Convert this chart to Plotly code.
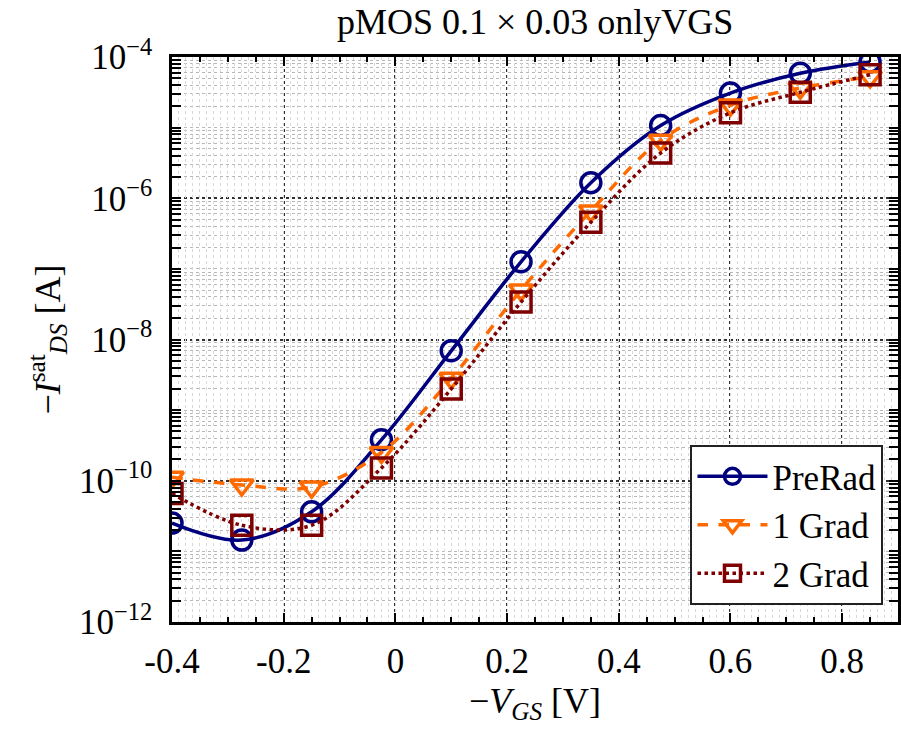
import plotly.graph_objects as go

vgs = [-0.4, -0.275, -0.15, -0.025, 0.1, 0.225, 0.35, 0.475, 0.6, 0.725, 0.85]
log_prerad = [-10.60, -10.84, -10.44, -9.42, -8.16, -6.90, -5.78, -4.97, -4.51, -4.23, -4.07]
log_1grad = [-9.95, -10.06, -10.09, -9.60, -8.55, -7.30, -6.18, -5.18, -4.68, -4.44, -4.28]
log_2grad = [-10.18, -10.63, -10.63, -9.82, -8.70, -7.47, -6.34, -5.36, -4.79, -4.50, -4.25]

series_names = ["PreRad", "1 Grad", "2 Grad"]
ytick_vals = [1e-12, 1e-10, 1e-8, 1e-6, 1e-4]
ytick_text = ["10<sup>\u221212</sup>", "10<sup>\u221210</sup>", "10<sup>\u22128</sup>",
              "10<sup>\u22126</sup>", "10<sup>\u22124</sup>"]
xtick_vals = [-0.4, -0.2, 0, 0.2, 0.4, 0.6, 0.8]
xtick_text = ["-0.4", "-0.2", "0", "0.2", "0.4", "0.6", "0.8"]

FONT = "Liberation Serif"
styles = [
    dict(color="#00007f", dash="solid", symbol="circle-open"),
    dict(color="#ff6a00", dash="dash", symbol="triangle-down-open"),
    dict(color="#7f0000", dash="dot", symbol="square-open"),
]

fig = go.Figure()
for name, logs, st in zip(series_names, [log_prerad, log_1grad, log_2grad], styles):
    fig.add_trace(go.Scatter(
        x=vgs, y=[10 ** v for v in logs], name=name, mode="lines+markers",
        line=dict(color=st["color"], width=3.5, dash=st["dash"], shape="spline", smoothing=1.0),
        marker=dict(symbol=st["symbol"], size=20, color=st["color"],
                    line=dict(width=3.5, color=st["color"])),
    ))

# dense light vertical grid via overlay axis
fig.add_trace(go.Scatter(x=[-0.4, 0.9], y=[1e-12, 1e-12], xaxis="x2", mode="none",
                         showlegend=False, hoverinfo="skip"))

f = lambda s: dict(family=FONT, size=s, color="black")

fig.update_layout(
    width=901, height=729,
    margin=dict(l=172, r=3, t=57, b=107),
    paper_bgcolor="white", plot_bgcolor="white",
    font=f(35),
    title=dict(text="pMOS 0.1 \u00d7 0.03 onlyVGS", x=0.594, xanchor="center", y=0.97,
               yanchor="middle", font=f(36)),
    xaxis=dict(
        range=[-0.4, 0.9], tickvals=xtick_vals, ticktext=xtick_text, automargin=False,
        showline=True, linecolor="black", linewidth=2.5, mirror="allticks",
        ticks="inside", ticklen=9, tickwidth=2, tickcolor="black",
        showgrid=True, gridcolor="#303030", griddash="dot", gridwidth=1.5,
        minor=dict(dtick=0.05, tick0=0, ticks="inside", ticklen=5, tickwidth=1.5,
                   tickcolor="black", showgrid=True, gridcolor="#b0b0b0",
                   griddash="dot", gridwidth=1),
        zeroline=False, ticklabelstandoff=6,
        title=dict(text="\u2212<i>V</i><sub><i>GS</i></sub> [V]", standoff=6, font=f(36)),
        tickfont=f(35),
    ),
    xaxis2=dict(
        overlaying="x", range=[-0.4, 0.9], dtick=0.0125, tick0=0, showticklabels=False,
        ticks="", showgrid=True, gridcolor="#d8d8d8", griddash="dot", gridwidth=1,
        zeroline=False, showline=False, automargin=False,
    ),
    yaxis=dict(
        type="log", range=[-12, -4], tickvals=ytick_vals, ticktext=ytick_text, automargin=False,
        showline=True, linecolor="black", linewidth=2.5, mirror="allticks",
        ticks="inside", ticklen=9, tickwidth=2, tickcolor="black",
        showgrid=True, gridcolor="#303030", griddash="dot", gridwidth=1.5,
        minor=dict(dtick="D1", ticks="inside", ticklen=5, tickwidth=1.5, tickcolor="black",
                   showgrid=True, gridcolor="#b8b8b8", griddash="dot", gridwidth=1),
        zeroline=False, ticklabelstandoff=10,
        title=dict(text="\u2212<i>I</i><sup>sat</sup><sub><i>DS</i></sub> [A]", standoff=8, font=f(36)),
        tickfont=f(35),
    ),
    legend=dict(
        x=0.98, y=0.03, xanchor="right", yanchor="bottom",
        bgcolor="white", bordercolor="#222222", borderwidth=2,
        font=f(35), itemwidth=70, tracegroupgap=0,
    ),
)

fig.write_html("out.html", config={"displayModeBar": False},
               post_script="document.body.style.margin='0';document.body.style.overflow='hidden';")
